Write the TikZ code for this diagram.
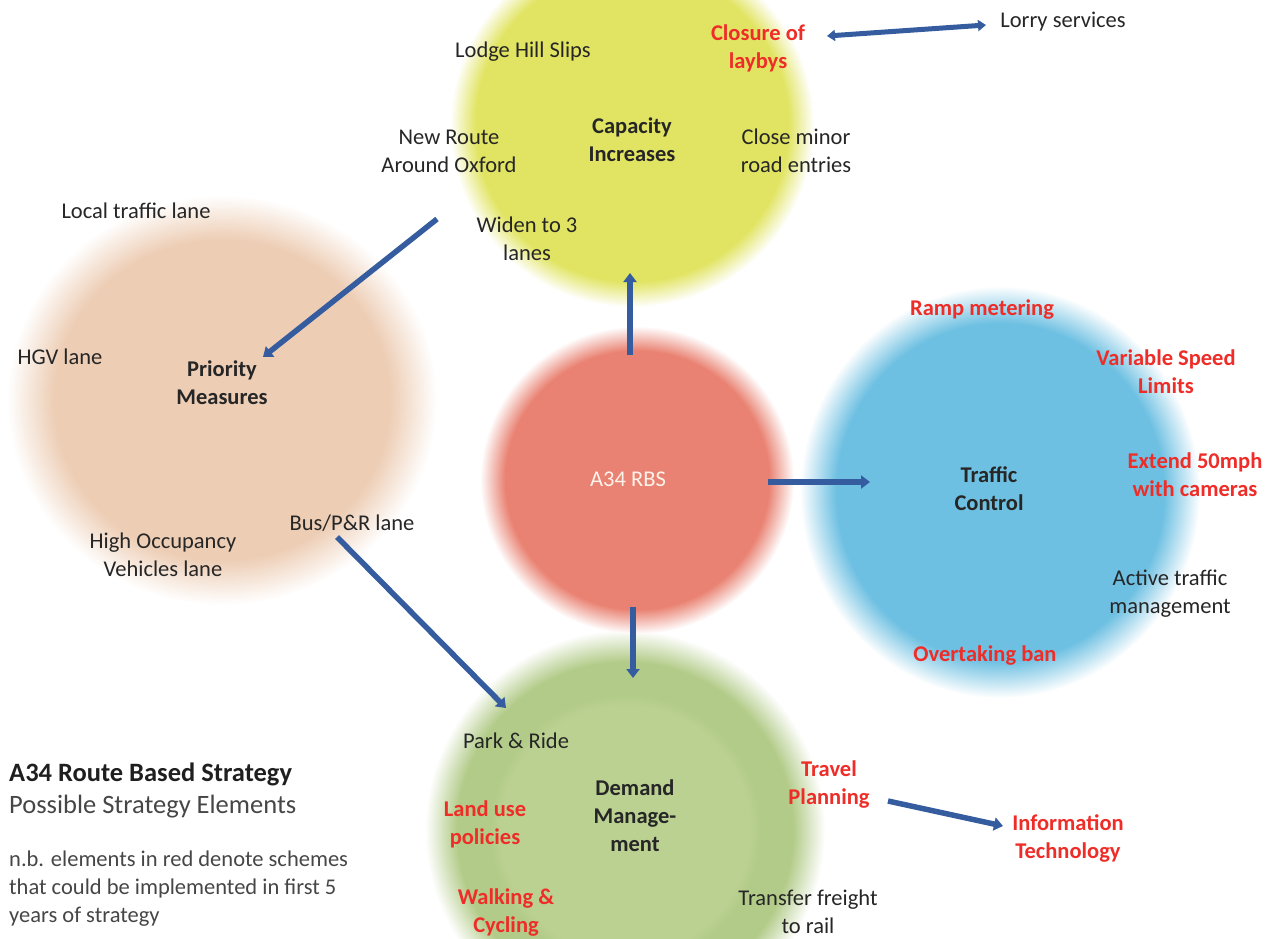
\documentclass[tikz,border=0pt]{standalone}
\usepackage{fontspec}
\setmainfont{Carlito}
\usetikzlibrary{arrows.meta}
\definecolor{cY}{RGB}{225,228,98}
\definecolor{cR}{RGB}{233,130,114}
\definecolor{cB}{RGB}{110,192,226}
\definecolor{cP}{RGB}{237,205,180}
\definecolor{cG}{RGB}{178,203,136}
\definecolor{cGi}{RGB}{187,209,146}
\definecolor{tdark}{RGB}{38,38,38}
\definecolor{tred}{RGB}{238,45,40}
\definecolor{tsub}{RGB}{70,70,70}
\definecolor{ablue}{RGB}{52,92,158}
\definecolor{rbs}{RGB}{252,244,236}
\pgfdeclareradialshading{shY}{\pgfpointorigin}{color(0bp)=(cY);color(21.5bp)=(cY);color(25bp)=(white);color(50bp)=(white)}
\pgfdeclareradialshading{shR}{\pgfpointorigin}{color(0bp)=(cR);color(21bp)=(cR);color(25bp)=(white);color(50bp)=(white)}
\pgfdeclareradialshading{shB}{\pgfpointorigin}{color(0bp)=(cB);color(20.5bp)=(cB);color(25bp)=(white);color(50bp)=(white)}
\pgfdeclareradialshading{shP}{\pgfpointorigin}{color(0bp)=(cP);color(19.5bp)=(cP);color(25bp)=(white);color(50bp)=(white)}
\pgfdeclareradialshading{shG}{\pgfpointorigin}{color(0bp)=(cGi);color(15.5bp)=(cGi);color(17bp)=(cG);color(21bp)=(cG);color(25bp)=(white);color(50bp)=(white)}
\tikzset{
  lbl/.style={font=\fontsize{22.5}{28}\selectfont, text=tdark, align=center, inner sep=0pt},
  rlbl/.style={font=\fontsize{22.5}{28}\selectfont\bfseries, text=tred, align=center, inner sep=0pt},
  hub/.style={font=\fontsize{22.5}{28}\selectfont\bfseries, text=black!85, align=center, inner sep=0pt},
  conn/.style={line width=5.5pt, draw=ablue, -{Triangle[length=9pt,width=13pt]}},
  dconn/.style={line width=5pt, draw=ablue, {Triangle[length=8pt,width=11pt]}-{Triangle[length=8pt,width=11pt]}},
}
\begin{document}
\begin{tikzpicture}[x=1pt,y=-1pt]
\useasboundingbox (0,0) rectangle (1285,938);
\clip (0,0) rectangle (1285,938);
% blobs
\shade[shading=shY] (632,125) circle[x radius=182pt, y radius=182pt];
\shade[shading=shP] (222,400) circle[x radius=215pt, y radius=205pt];
\shade[shading=shB] (1000,492) circle[x radius=200pt, y radius=206pt];
\shade[shading=shG] (625,830) circle[x radius=200pt, y radius=200pt];
\shade[shading=shR] (637,480) circle[x radius=157pt, y radius=154pt];

% capacity
\node[lbl] (lodge) at (523,52) {Lodge Hill Slips};
\node[rlbl] (closure) at (758,48) {Closure of\\laybys};
\node[lbl] (lorry) at (1063,22) {Lorry services};
\node[hub] (cap) at (632,140) {Capacity\\Increases};
\node[lbl] (newroute) at (449,151) {New Route\\Around Oxford};
\node[lbl] (closeminor) at (796,151) {Close minor\\road entries};
\node[lbl] (widen) at (527,239) {Widen to 3\\lanes};
% priority
\node[lbl] (local) at (136,211) {Local traffic lane};
\node[lbl] (hgv) at (60,357) {HGV lane};
\node[hub] (prio) at (222,383) {Priority\\Measures};
\node[lbl] (hov) at (163,555) {High Occupancy\\Vehicles lane};
\node[lbl] (bus) at (352,523) {Bus/P\&R lane};
% centre
\node[lbl, text=rbs] (rbsn) at (628,479) {A34 RBS};
% traffic control
\node[rlbl] (ramp) at (982,310) {Ramp metering};
\node[rlbl] (vsl) at (1166,372) {Variable Speed\\Limits};
\node[rlbl] (ext) at (1195,475) {Extend 50mph\\with cameras};
\node[hub] (tc) at (989,489) {Traffic\\Control};
\node[lbl] (atm) at (1170,594) {Active traffic\\management};
\node[rlbl] (overt) at (985,655) {Overtaking ban};
% demand
\node[lbl] (park) at (516,741) {Park \& Ride};
\node[hub] (dm) at (635,816) {Demand\\Manage-\\ment};
\node[rlbl] (land) at (485,824) {Land use\\policies};
\node[rlbl] (travel) at (829,784) {Travel\\Planning};
\node[rlbl] (walk) at (506,912) {Walking \&\\Cycling};
\node[lbl] (freight) at (808,912) {Transfer freight\\to rail};
\node[rlbl] (it) at (1068,838) {Information\\Technology};
% legend
\node[anchor=west, align=left, inner sep=0pt, font=\fontsize{26.5}{32}\selectfont, text=tsub] (title) at (9,790)
  {{\bfseries\color{black!88}A34 Route Based Strategy}\\Possible Strategy Elements};
\node[anchor=west, align=left, inner sep=0pt, font=\fontsize{22.5}{28}\selectfont, text=tsub] (note) at (9,889)
  {n.b. elements in red denote schemes\\that could be implemented in first 5\\years of strategy};

% connector end points
\coordinate (upS) at (630,355);  \coordinate (upE) at (630,273);
\coordinate (rtS) at (768,482);  \coordinate (rtE) at (870,482);
\coordinate (dnS) at (633,607);  \coordinate (dnE) at (633,678);
\coordinate (d1S) at (437,219);  \coordinate (d1E) at (263,357);
\coordinate (d2S) at (337,537);  \coordinate (d2E) at (506,708);
\coordinate (lyS) at (827,36);   \coordinate (lyE) at (986,25);
\coordinate (tpS) at (888,801);  \coordinate (tpE) at (1003,826);

\draw[conn] (upS) -- (upE);
\draw[conn] (rtS) -- (rtE);
\draw[conn] (dnS) -- (dnE);
\draw[conn] (d1S) -- (d1E);
\draw[conn] (d2S) -- (d2E);
\draw[dconn] (lyS) -- (lyE);
\draw[conn] (tpS) -- (tpE);
\end{tikzpicture}
\end{document}
